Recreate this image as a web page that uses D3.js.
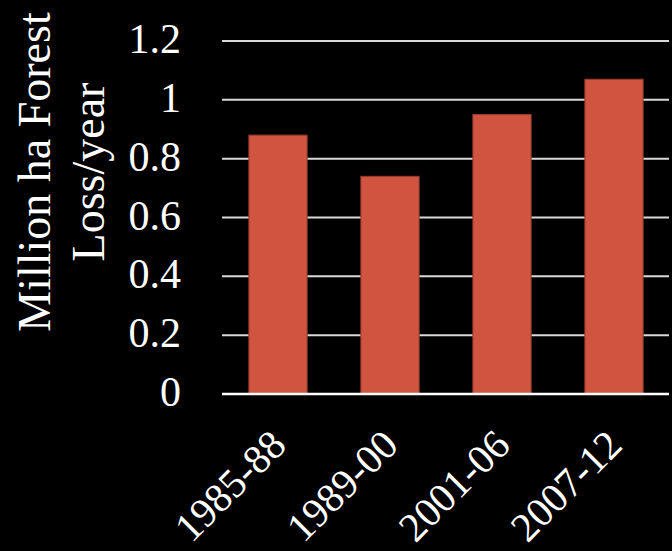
<!DOCTYPE html>
<html>
<head>
<meta charset="utf-8">
<script src="https://cdn.jsdelivr.net/npm/d3@7"></script>
<style>
  html, body { margin: 0; padding: 0; background: #000; }
  svg { display: block; }
  text { font-family: "Liberation Serif", "Times New Roman", serif; fill: #fff; }
</style>
</head>
<body>
<svg id="chart" width="672" height="551"></svg>
<script>
// data
var periods = ["1985-88", "1989-00", "2001-06", "2007-12"];
var lossValues = [0.88, 0.74, 0.95, 1.07];
var yTicks = [0, 0.2, 0.4, 0.6, 0.8, 1, 1.2];
var titleLines = ["Million ha Forest", "Loss/year"];

var width = 672,
    height = 551,
    plotLeft = 222,
    plotRight = 670;

var svg = d3.select("#chart");

svg.append("rect")
    .attr("width", width)
    .attr("height", height)
    .attr("fill", "#000");

var y = d3.scaleLinear()
    .domain([0, 1.2])
    .range([394, 41]);

var x = d3.scaleBand()
    .domain(periods)
    .range([plotLeft, plotRight])
    .paddingInner(0.48)
    .paddingOuter(0.24);

//
// gridlines (the zero line is drawn after the bars, a bit brighter)
//
svg.append("g")
    .selectAll("line")
    .data(yTicks.filter(function (d) { return d > 0; }))
    .enter()
    .append("line")
    .attr("x1", plotLeft)
    .attr("x2", plotRight - 1)
    .attr("y1", function (d) { return y(d); })
    .attr("y2", function (d) { return y(d); })
    .attr("stroke", "#d9d9d9")
    .attr("stroke-width", 2);

// bars
svg.append("g")
    .selectAll("rect")
    .data(lossValues)
    .enter()
    .append("rect")
    .attr("x", function (d, i) { return x(periods[i]); })
    .attr("y", function (d) { return y(d); })
    .attr("width", x.bandwidth())
    .attr("height", function (d) { return y(0) - y(d); })
    .attr("fill", "#d0543f")
    .attr("stroke", "#983c2d")
    .attr("stroke-width", 1);

svg.append("line")
    .attr("x1", plotLeft)
    .attr("x2", plotRight - 1)
    .attr("y1", y(0))
    .attr("y2", y(0))
    .attr("stroke", "#fff")
    .attr("stroke-width", 2.5);

// y tick labels
svg.append("g")
    .selectAll("text")
    .data(yTicks)
    .enter()
    .append("text")
    .attr("x", 181)
    .attr("y", function (d) { return y(d) + 12; })
    .attr("text-anchor", "end")
    .style("font-size", "42px")
    .text(function (d) { return d3.format("")(d); });

// x labels, rotated; kept just inside the bottom edge
svg.append("g")
    .selectAll("text")
    .data(periods)
    .enter()
    .append("text")
    .attr("transform", function (d) {
        return "translate(" + (x(d) + x.bandwidth() / 2) + ",437) rotate(-45)";
    })
    .attr("text-anchor", "end")
    .attr("dy", "0.35em")
    .style("font-size", "41px")
    .text(function (d) { return d; });

// axis title, two lines
var title = svg.append("text")
    .attr("transform", "translate(50,172) rotate(-90)")
    .attr("text-anchor", "middle")
    .style("font-size", "46px");

title.selectAll("tspan")
    .data(titleLines)
    .enter()
    .append("tspan")
    .attr("x", 0)
    .attr("y", function (d, i) { return i * 54; })
    .text(function (d) { return d; });
</script>
</body>
</html>
